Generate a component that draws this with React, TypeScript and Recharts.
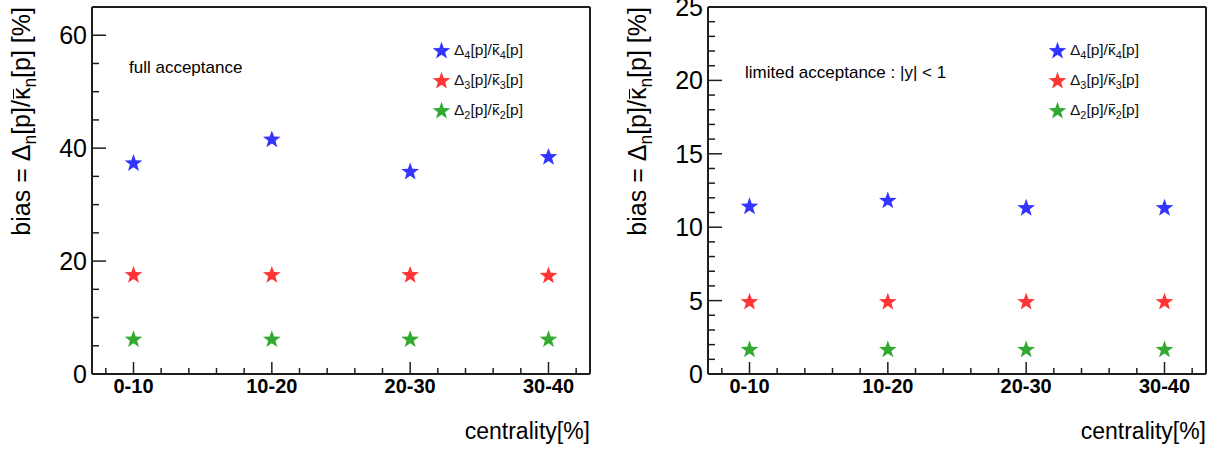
import { ScatterChart, Scatter, XAxis, YAxis, Legend } from 'recharts';

const categories = ['0-10', '10-20', '20-30', '30-40'];

// full acceptance
const fullD4 = [37.3, 41.5, 35.8, 38.4];
const fullD3 = [17.5, 17.5, 17.5, 17.4];
const fullD2 = [6.1, 6.1, 6.1, 6.1];

// limited acceptance |y| < 1
const limD4 = [11.4, 11.8, 11.3, 11.3];
const limD3 = [4.9, 4.9, 4.9, 4.9];
const limD2 = [1.65, 1.65, 1.65, 1.65];

const seriesOrders = [4, 3, 2];
const seriesColors = ['#3434ff', '#ff3434', '#32aa32'];

const xTicks = [-0.2, 0, 0.2, 0.4, 0.6, 0.8, 1, 1.2, 1.4, 1.6, 1.8, 2, 2.2, 2.4, 2.6, 2.8, 3, 3.2];
const fullYTicks = [0, 5, 10, 15, 20, 25, 30, 35, 40, 45, 50, 55, 60];
const limYTicks = [0, 1, 2, 3, 4, 5, 6, 7, 8, 9, 10, 11, 12, 13, 14, 15, 16, 17, 18, 19, 20, 21, 22, 23, 24, 25];

const FONT = '"Liberation Sans", Arial, Helvetica, sans-serif';
const FRAME = '#1e1e1e';
const W = 609;
const H = 450;

function starPath(cx: number, cy: number, R: number, r: number) {
  let d = '';
  for (let i = 0; i < 10; i++) {
    const rad = i % 2 === 0 ? R : r;
    const a = -Math.PI / 2 + (i * Math.PI) / 5;
    d += (i ? 'L' : 'M') + (cx + rad * Math.cos(a)).toFixed(2) + ',' + (cy + rad * Math.sin(a)).toFixed(2);
  }
  return d + 'Z';
}

const Star = (props: any) => {
  const { cx, cy, fill } = props;
  if (cx == null || cy == null) return null;
  return <path d={starPath(cx, cy, 9.3, 3.8)} fill={fill} />;
};

// kappa with a bar sitting close above it
const KBar = () => (
  <span style={{ position: 'relative', display: 'inline-block' }}>
    κ
    <span
      style={{
        position: 'absolute',
        left: '0.06em',
        right: '0.04em',
        top: '0.2em',
        borderTop: '0.07em solid currentColor',
      }}
    />
  </span>
);

const Sub = ({ children }: { children: any }) => (
  <sub style={{ fontSize: '0.7em', lineHeight: 0 }}>{children}</sub>
);

const SeriesLabel = ({ n }: { n: number | string }) => (
  <>
    Δ<Sub>{n}</Sub>[p]/<KBar />
    <Sub>{n}</Sub>[p]
  </>
);

const renderLegend = (props: any) => {
  const items = [...(props.payload || [])].sort(
    (a: any, b: any) => seriesOrders.indexOf(Number(a.value)) - seriesOrders.indexOf(Number(b.value))
  );
  return (
    <div style={{ fontFamily: FONT }}>
      {items.map((it: any) => (
        <div key={it.value} style={{ display: 'flex', alignItems: 'center', height: 30 }}>
          <svg width={19} height={19}>
            <path d={starPath(9.5, 10, 9.3, 3.8)} fill={it.color} />
          </svg>
          <span style={{ marginLeft: 3, fontSize: 15.5, color: '#111' }}>
            <SeriesLabel n={it.value} />
          </span>
        </div>
      ))}
    </div>
  );
};

const makeLeftTick = (majorStep: number) => (props: any) => {
  const { x, y, payload } = props;
  const v = payload.value;
  const major = v % majorStep === 0;
  return (
    <g>
      <line x1={x} x2={x + (major ? 14 : 7)} y1={y} y2={y} stroke={FRAME} strokeWidth={1.5} />
      {major && (
        <text x={x - 5} y={y} dy={9} textAnchor="end" fontSize={25} fontFamily={FONT} fill="#000">
          {v}
        </text>
      )}
    </g>
  );
};

const makeRightTick = (majorStep: number) => (props: any) => {
  const { x, y, payload } = props;
  const major = payload.value % majorStep === 0;
  return <line x1={x} x2={x - (major ? 14 : 7)} y1={y} y2={y} stroke={FRAME} strokeWidth={1.5} />;
};

const BottomTick = (props: any) => {
  const { x, y, payload } = props;
  const v = payload.value;
  const major = Number.isInteger(v);
  return (
    <g>
      <line x1={x} x2={x} y1={y} y2={y - (major ? 12 : 6)} stroke={FRAME} strokeWidth={1.5} />
      {major && (
        <text x={x} y={y} dy={19} textAnchor="middle" fontSize={20} fontWeight="bold" fontFamily={FONT} fill="#000">
          {categories[v]}
        </text>
      )}
    </g>
  );
};

const TopTick = (props: any) => {
  const { x, y, payload } = props;
  const major = Number.isInteger(payload.value);
  return <line x1={x} x2={x} y1={y} y2={y + (major ? 11 : 6)} stroke={FRAME} strokeWidth={1.5} />;
};

interface PanelProps {
  left: number;
  values: number[][];
  yMax: number;
  yTicks: number[];
  majorStep: number;
  note: string;
  noteTop: number;
}

function Panel({ left, values, yMax, yTicks, majorStep, note, noteTop }: PanelProps) {
  const dataSets = values.map((vals) => vals.map((v, i) => ({ x: i, y: v })));
  return (
    <div style={{ position: 'absolute', left, top: 0, width: W, height: H, fontFamily: FONT }}>
      <ScatterChart width={W} height={H} margin={{ top: 6, right: 18, bottom: 75, left: 91 }}>
        <XAxis
          type="number"
          dataKey="x"
          domain={[-0.3, 3.3]}
          ticks={xTicks}
          interval={0}
          height={1}
          tickSize={0}
          tickMargin={0}
          tickLine={false}
          axisLine={{ stroke: FRAME, strokeWidth: 2 }}
          tick={BottomTick}
        />
        <XAxis
          xAxisId="top"
          orientation="top"
          type="number"
          domain={[-0.3, 3.3]}
          ticks={xTicks}
          interval={0}
          height={1}
          tickSize={0}
          tickMargin={0}
          tickLine={false}
          axisLine={{ stroke: FRAME, strokeWidth: 2 }}
          tick={TopTick}
        />
        <YAxis
          type="number"
          dataKey="y"
          domain={[0, yMax]}
          ticks={yTicks}
          interval={0}
          width={1}
          tickSize={0}
          tickMargin={0}
          tickLine={false}
          axisLine={{ stroke: FRAME, strokeWidth: 2 }}
          tick={makeLeftTick(majorStep)}
        />
        <YAxis
          yAxisId="right"
          orientation="right"
          type="number"
          domain={[0, yMax]}
          ticks={yTicks}
          interval={0}
          width={1}
          tickSize={0}
          tickMargin={0}
          tickLine={false}
          axisLine={{ stroke: FRAME, strokeWidth: 2 }}
          tick={makeRightTick(majorStep)}
        />
        {dataSets.map((d, k) => (
          <Scatter
            key={k}
            name={String(seriesOrders[k])}
            data={d}
            fill={seriesColors[k]}
            shape={Star}
            isAnimationActive={false}
          />
        ))}
        <Legend
          layout="vertical"
          align="center"
          verticalAlign="middle"
          wrapperStyle={{ top: 35, left: 432, width: 130, height: 90 }}
          content={renderLegend}
        />
      </ScatterChart>
      {/* y title, rotated to read bottom to top, ending at the frame top */}
      <div
        style={{
          position: 'absolute',
          left: 8,
          top: 307,
          width: 300,
          height: 26,
          transformOrigin: '0 0',
          transform: 'rotate(-90deg)',
          textAlign: 'right',
          fontSize: 25,
          lineHeight: '26px',
          whiteSpace: 'nowrap',
          color: '#000',
        }}
      >
        bias = Δ<Sub>n</Sub>[p]/<KBar />
        <Sub>n</Sub>[p] [%]
      </div>
      <div
        style={{
          position: 'absolute',
          left: 0,
          width: 590,
          top: 418,
          textAlign: 'right',
          fontSize: 23,
          lineHeight: '26px',
          color: '#000',
        }}
      >
        centrality[%]
      </div>
      <div
        style={{
          position: 'absolute',
          left: 129,
          top: noteTop,
          fontSize: 17,
          lineHeight: '20px',
          whiteSpace: 'nowrap',
          color: '#000',
        }}
      >
        {note}
      </div>
    </div>
  );
}

export default function App() {
  return (
    <div style={{ position: 'absolute', left: 0, top: 0, width: 1225, height: 450, background: '#fff', overflow: 'hidden' }}>
      <Panel
        left={0}
        values={[fullD4, fullD3, fullD2]}
        yMax={65}
        yTicks={fullYTicks}
        majorStep={20}
        note="full acceptance"
        noteTop={58}
      />
      <Panel
        left={616}
        values={[limD4, limD3, limD2]}
        yMax={25}
        yTicks={limYTicks}
        majorStep={5}
        note="limited acceptance : |y| < 1"
        noteTop={63}
      />
    </div>
  );
}
